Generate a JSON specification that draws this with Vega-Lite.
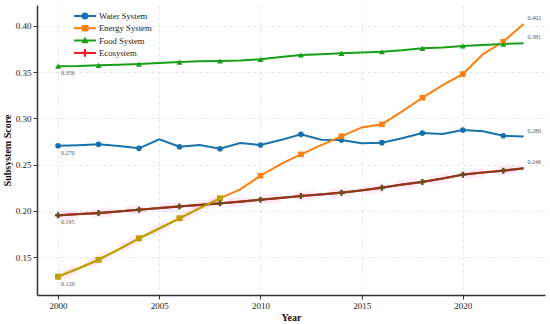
{
  "$schema": "https://vega.github.io/schema/vega-lite/v6.json",
  "width": 508,
  "height": 290,
  "autosize": "none",
  "padding": {"left": 37, "top": 5, "right": 5, "bottom": 29},
  "background": "white",
  "config": {
    "font": "Liberation Serif",
    "view": {"stroke": null},
    "axis": {
      "labelFont": "Liberation Serif", "titleFont": "Liberation Serif",
      "labelFontSize": 9, "titleFontSize": 10, "titleFontWeight": "bold",
      "labelColor": "#222", "titleColor": "#111",
      "domainColor": "#333", "domainWidth": 1.5,
      "tickColor": "#333", "tickSize": 4,
      "gridColor": "#dddddd", "gridDash": [3, 3], "gridWidth": 0.8
    },
    "legend": {
      "orient": "none", "legendX": 42, "legendY": 5, "title": null,
      "labelFont": "Liberation Serif", "labelFontSize": 8.7, "labelColor": "#222",
      "symbolSize": 144, "labelOffset": 8, "rowPadding": 1.3, "symbolOpacity": 1,
      "symbolStrokeWidth": 0
    }
  },
  "data": {"values": [
    {"year":2000,"series":"Water System","value":0.2704},
    {"year":2001,"series":"Water System","value":0.2710},
    {"year":2002,"series":"Water System","value":0.2719},
    {"year":2003,"series":"Water System","value":0.2700},
    {"year":2004,"series":"Water System","value":0.2676},
    {"year":2005,"series":"Water System","value":0.2773},
    {"year":2006,"series":"Water System","value":0.2693},
    {"year":2007,"series":"Water System","value":0.2712},
    {"year":2008,"series":"Water System","value":0.2672},
    {"year":2009,"series":"Water System","value":0.2733},
    {"year":2010,"series":"Water System","value":0.2712},
    {"year":2011,"series":"Water System","value":0.2765},
    {"year":2012,"series":"Water System","value":0.2827},
    {"year":2013,"series":"Water System","value":0.2770},
    {"year":2014,"series":"Water System","value":0.2766},
    {"year":2015,"series":"Water System","value":0.2730},
    {"year":2016,"series":"Water System","value":0.2737},
    {"year":2017,"series":"Water System","value":0.2784},
    {"year":2018,"series":"Water System","value":0.2841},
    {"year":2019,"series":"Water System","value":0.2830},
    {"year":2020,"series":"Water System","value":0.2874},
    {"year":2021,"series":"Water System","value":0.2860},
    {"year":2022,"series":"Water System","value":0.2812},
    {"year":2023,"series":"Water System","value":0.2803},
    {"year":2000,"series":"Energy System","value":0.1290},
    {"year":2001,"series":"Energy System","value":0.1378},
    {"year":2002,"series":"Energy System","value":0.1473},
    {"year":2003,"series":"Energy System","value":0.1585},
    {"year":2004,"series":"Energy System","value":0.1704},
    {"year":2005,"series":"Energy System","value":0.1810},
    {"year":2006,"series":"Energy System","value":0.1920},
    {"year":2007,"series":"Energy System","value":0.2030},
    {"year":2008,"series":"Energy System","value":0.2136},
    {"year":2009,"series":"Energy System","value":0.2233},
    {"year":2010,"series":"Energy System","value":0.2380},
    {"year":2011,"series":"Energy System","value":0.2505},
    {"year":2012,"series":"Energy System","value":0.2611},
    {"year":2013,"series":"Energy System","value":0.2710},
    {"year":2014,"series":"Energy System","value":0.2806},
    {"year":2015,"series":"Energy System","value":0.2902},
    {"year":2016,"series":"Energy System","value":0.2935},
    {"year":2017,"series":"Energy System","value":0.3075},
    {"year":2018,"series":"Energy System","value":0.3222},
    {"year":2019,"series":"Energy System","value":0.3359},
    {"year":2020,"series":"Energy System","value":0.3478},
    {"year":2021,"series":"Energy System","value":0.3694},
    {"year":2022,"series":"Energy System","value":0.3827},
    {"year":2023,"series":"Energy System","value":0.4020},
    {"year":2000,"series":"Food System","value":0.3563},
    {"year":2001,"series":"Food System","value":0.3565},
    {"year":2002,"series":"Food System","value":0.3572},
    {"year":2003,"series":"Food System","value":0.3578},
    {"year":2004,"series":"Food System","value":0.3586},
    {"year":2005,"series":"Food System","value":0.3598},
    {"year":2006,"series":"Food System","value":0.3608},
    {"year":2007,"series":"Food System","value":0.3617},
    {"year":2008,"series":"Food System","value":0.3619},
    {"year":2009,"series":"Food System","value":0.3625},
    {"year":2010,"series":"Food System","value":0.3637},
    {"year":2011,"series":"Food System","value":0.3662},
    {"year":2012,"series":"Food System","value":0.3684},
    {"year":2013,"series":"Food System","value":0.3693},
    {"year":2014,"series":"Food System","value":0.3702},
    {"year":2015,"series":"Food System","value":0.3710},
    {"year":2016,"series":"Food System","value":0.3719},
    {"year":2017,"series":"Food System","value":0.3735},
    {"year":2018,"series":"Food System","value":0.3756},
    {"year":2019,"series":"Food System","value":0.3765},
    {"year":2020,"series":"Food System","value":0.3781},
    {"year":2021,"series":"Food System","value":0.3792},
    {"year":2022,"series":"Food System","value":0.3802},
    {"year":2023,"series":"Food System","value":0.3812},
    {"year":2000,"series":"Ecosystem","value":0.1953},
    {"year":2001,"series":"Ecosystem","value":0.1966},
    {"year":2002,"series":"Ecosystem","value":0.1977},
    {"year":2003,"series":"Ecosystem","value":0.1995},
    {"year":2004,"series":"Ecosystem","value":0.2013},
    {"year":2005,"series":"Ecosystem","value":0.2031},
    {"year":2006,"series":"Ecosystem","value":0.2049},
    {"year":2007,"series":"Ecosystem","value":0.2065},
    {"year":2008,"series":"Ecosystem","value":0.2082},
    {"year":2009,"series":"Ecosystem","value":0.2100},
    {"year":2010,"series":"Ecosystem","value":0.2121},
    {"year":2011,"series":"Ecosystem","value":0.2140},
    {"year":2012,"series":"Ecosystem","value":0.2161},
    {"year":2013,"series":"Ecosystem","value":0.2178},
    {"year":2014,"series":"Ecosystem","value":0.2197},
    {"year":2015,"series":"Ecosystem","value":0.2222},
    {"year":2016,"series":"Ecosystem","value":0.2251},
    {"year":2017,"series":"Ecosystem","value":0.2285},
    {"year":2018,"series":"Ecosystem","value":0.2313},
    {"year":2019,"series":"Ecosystem","value":0.2350},
    {"year":2020,"series":"Ecosystem","value":0.2392},
    {"year":2021,"series":"Ecosystem","value":0.2415},
    {"year":2022,"series":"Ecosystem","value":0.2435},
    {"year":2023,"series":"Ecosystem","value":0.2460}
  ]},
  "encoding": {
    "x": {
      "field": "year", "type": "quantitative",
      "scale": {"domain": [1998.96, 2024.06], "nice": false, "zero": false},
      "axis": {"title": "Year", "values": [2000, 2005, 2010, 2015, 2020], "format": "d", "labelPadding": 2, "titlePadding": 2}
    },
    "y": {
      "field": "value", "type": "quantitative",
      "scale": {"domain": [0.1092, 0.4224], "nice": false, "zero": false},
      "axis": {"title": "Subsystem Score", "values": [0.15, 0.2, 0.25, 0.3, 0.35, 0.4], "format": ".2f", "labelPadding": 2, "titlePadding": 3}
    }
  },
  "layer": [
    {
      "transform": [{"filter": "datum.series === 'Ecosystem' || (datum.series === 'Energy System' && datum.year <= 2008)"}],
      "mark": {"type": "line", "strokeWidth": 9, "color": "#ff66cc", "opacity": 0.13, "strokeDash": [20, 14]},
      "encoding": {"detail": {"field": "series"}}
    },
    {
      "transform": [{"filter": "datum.year === 2000"}],
      "mark": {"type": "point", "filled": true, "opacity": 0},
      "encoding": {
        "color": {
          "field": "series", "type": "nominal",
          "scale": {"domain": ["Water System", "Energy System", "Food System", "Ecosystem"], "range": ["#1672ad", "#ff7f0e", "#17a017", "#ee1c2e"]}
        },
        "shape": {
          "field": "series", "type": "nominal",
          "scale": {"domain": ["Water System", "Energy System", "Food System", "Ecosystem"],
            "range": [
              "M-1.83,-0.17H1.83V0.17H-1.83Z M0.6,0A0.6,0.6 0 1,1 -0.6,0A0.6,0.6 0 1,1 0.6,0Z",
              "M-1.83,-0.17H1.83V0.17H-1.83Z M-0.55,-0.55H0.55V0.55H-0.55Z",
              "M-1.83,-0.17H1.83V0.17H-1.83Z M0,-0.65L0.6,0.45H-0.6Z",
              "M-1.83,-0.17H1.83V0.17H-1.83Z M-0.65,-0.18H-0.18V-0.65H0.18V-0.18H0.65V0.18H0.18V0.65H-0.18V0.18H-0.65Z"
            ]}
        }
      }
    },
    {
      "mark": {"type": "line", "strokeWidth": 2},
      "encoding": {
        "color": {"field": "series", "type": "nominal"}
      }
    },
    {
      "transform": [{"filter": "datum.series === 'Ecosystem'"}],
      "mark": {"type": "line", "strokeWidth": 2.2, "color": "#8e3a1e"},
      "encoding": {}
    },
    {
      "transform": [{"filter": "datum.series === 'Energy System' && datum.year <= 2008"}],
      "mark": {"type": "line", "strokeWidth": 2, "color": "#b9a300"},
      "encoding": {}
    },
    {
      "transform": [{"filter": "datum.series === 'Water System' && datum.year % 2 === 0 && datum.year < 2023"}],
      "mark": {"type": "point", "filled": true, "opacity": 1, "size": 32, "shape": "circle", "color": "#1672ad"},
      "encoding": {}
    },
    {
      "transform": [{"filter": "datum.series === 'Energy System' && datum.year % 2 === 0 && datum.year < 2023"}],
      "mark": {"type": "point", "filled": true, "opacity": 1, "size": 32, "shape": "square", "color": "#ff7f0e"},
      "encoding": {}
    },
    {
      "transform": [{"filter": "datum.series === 'Energy System' && datum.year <= 2008 && datum.year % 2 === 0"}],
      "mark": {"type": "point", "filled": true, "opacity": 1, "size": 32, "shape": "square", "color": "#b9a300"},
      "encoding": {}
    },
    {
      "transform": [{"filter": "datum.series === 'Food System' && datum.year % 2 === 0 && datum.year < 2023"}],
      "mark": {"type": "point", "filled": true, "opacity": 1, "size": 36, "shape": "triangle-up", "color": "#17a017"},
      "encoding": {}
    },
    {
      "transform": [{"filter": "datum.series === 'Ecosystem' && datum.year % 2 === 0 && datum.year < 2023"}],
      "mark": {"type": "point", "filled": true, "opacity": 1, "size": 36, "shape": "cross", "color": "#6e4b1c"},
      "encoding": {}
    },
    {
      "transform": [{"filter": "datum.year === 2000"}],
      "mark": {"type": "text", "align": "left", "baseline": "top", "dx": 3, "dy": 4, "fontSize": 6, "color": "#555"},
      "encoding": {"text": {"field": "value", "type": "quantitative", "format": ".3f"}}
    },
    {
      "transform": [{"filter": "datum.year === 2023"}],
      "mark": {"type": "text", "align": "left", "baseline": "middle", "dx": 4, "dy": -6, "fontSize": 6, "color": "#555"},
      "encoding": {"text": {"field": "value", "type": "quantitative", "format": ".3f"}}
    }
  ]
}
